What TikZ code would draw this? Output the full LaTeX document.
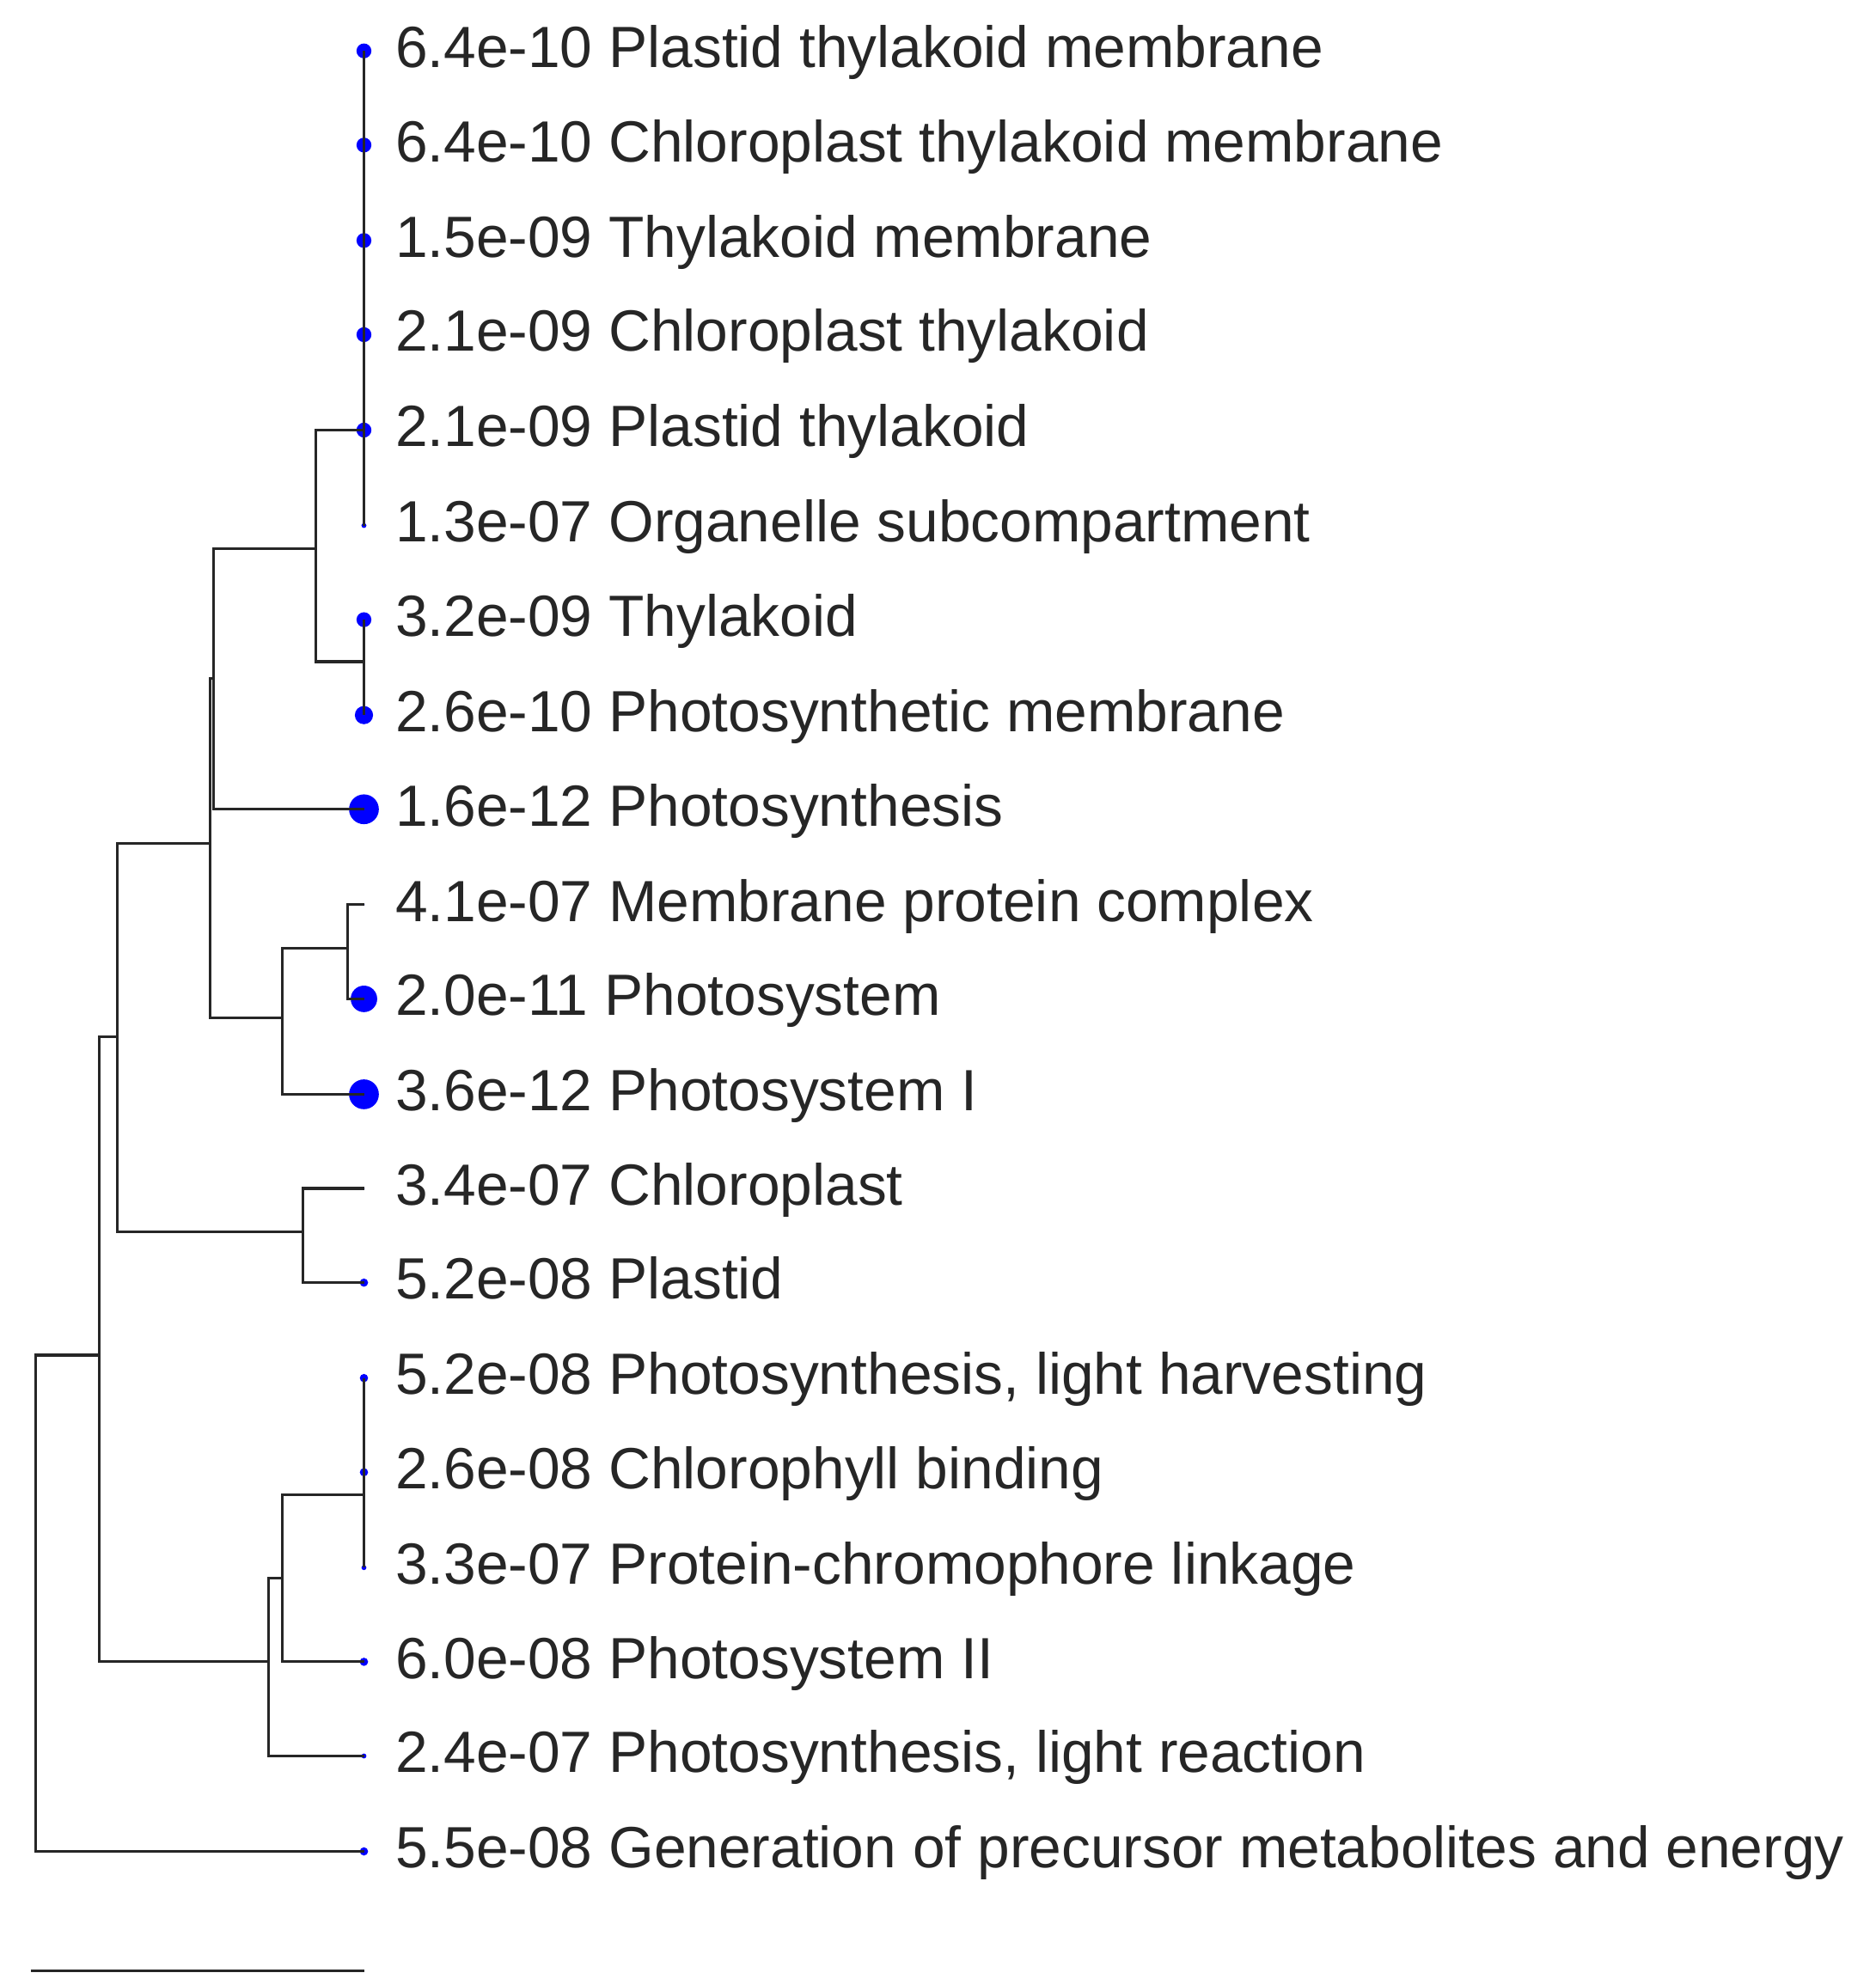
\documentclass[tikz,border=0pt]{standalone}
\usepackage{fontspec}
\setmainfont{Liberation Sans}
\begin{document}
\begin{tikzpicture}[x=0.01cm,y=-0.01cm,
  br/.style={line width=0.6pt,black!85},
  lab/.style={anchor=base west,inner sep=0pt,font=\fontsize{13pt}{15pt}\selectfont,text=black!85},
  dot/.style={fill=blue,draw=none,circle,inner sep=0pt,minimum size=#1*0.13mm}]
\useasboundingbox (0,0) rectangle (1474,1560);
\foreach \i/\y/\r/\t in {
1/40/9/{6.4e-10 Plastid thylakoid membrane},
2/114/9/{6.4e-10 Chloroplast thylakoid membrane},
3/189/9/{1.5e-09 Thylakoid membrane},
4/263/9/{2.1e-09 Chloroplast thylakoid},
5/338/9/{2.1e-09 Plastid thylakoid},
6/413/3/{1.3e-07 Organelle subcompartment},
7/487/9/{3.2e-09 Thylakoid},
8/562/11/{2.6e-10 Photosynthetic membrane},
9/636/18/{1.6e-12 Photosynthesis},
10/711/1/{4.1e-07 Membrane protein complex},
11/785/16/{2.0e-11 Photosystem},
12/860/18/{3.6e-12 Photosystem I},
13/934/1/{3.4e-07 Chloroplast},
14/1008/5/{5.2e-08 Plastid},
15/1083/5/{5.2e-08 Photosynthesis, light harvesting},
16/1157/5/{2.6e-08 Chlorophyll binding},
17/1232/3/{3.3e-07 Protein-chromophore linkage},
18/1306/5/{6.0e-08 Photosystem II},
19/1380/3/{2.4e-07 Photosynthesis, light reaction},
20/1455/5/{5.5e-08 Generation of precursor metabolites and energy}}
{\node[dot=\r] (l\i) at (286,\y) {};
 \node[lab] (t\i) at (310,\y+13) {\t};}
% internal nodes
\coordinate (a) at (286,338);
\coordinate (b) at (286,520);
\coordinate (c) at (248,431);
\coordinate (d) at (168,533);
\coordinate (e) at (273,745);
\coordinate (f) at (222,800);
\coordinate (g) at (165,663);
\coordinate (h) at (238,968);
\coordinate (i) at (92,815);
\coordinate (j) at (286,1175);
\coordinate (k) at (222,1240);
\coordinate (m) at (211,1306);
\coordinate (n) at (78,1065);
\coordinate (o) at (28,1260);
\draw[br] (l1.center) -- (l6.center);
\draw[br] (l7.center) -- (l8.center);
\draw[br] (l15.center) -- (l17.center);
\draw[br] (a) -| (c) |- (b);
\draw[br] (c) -| (d) |- (l9.center);
\draw[br] (l10.center) -| (e) |- (l11.center);
\draw[br] (e) -| (f) |- (l12.center);
\draw[br] (d) -| (g) |- (f);
\draw[br] (l13.center) -| (h) |- (l14.center);
\draw[br] (g) -| (i) |- (h);
\draw[br] (j) -| (k) |- (l18.center);
\draw[br] (k) -| (m) |- (l19.center);
\draw[br] (i) -| (n) |- (m);
\draw[br] (n) -| (o) |- (l20.center);
\coordinate (s1) at (24,1549);
\coordinate (s2) at (286,1549);
\draw[br] (s1) -- (s2);
\end{tikzpicture}
\end{document}
